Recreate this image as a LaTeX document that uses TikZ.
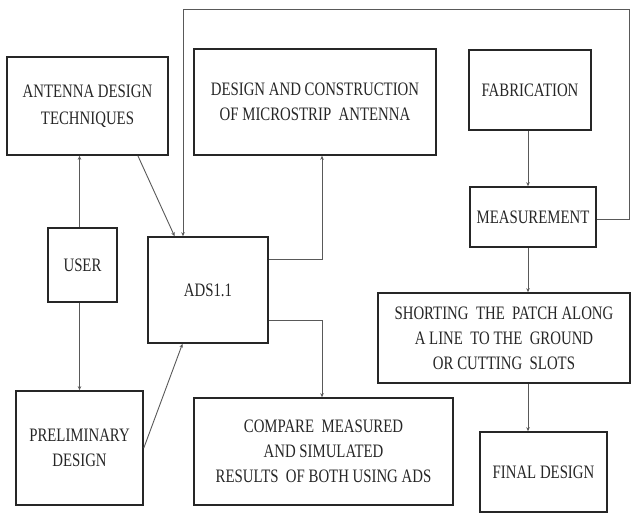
\documentclass[tikz,border=0pt]{standalone}
\usepackage{fontspec}
\setmainfont[FakeStretch=0.78]{Liberation Serif}
\usetikzlibrary{calc,arrows.meta}
\begin{document}
\begin{tikzpicture}[x=1pt,y=-1pt,
  box/.style={draw=black!85,line width=1.6pt,rectangle,inner sep=0pt,align=center,
    text=black!85,font=\fontsize{19}{25}\selectfont},
  conn/.style={draw=black!65,line width=0.9pt,-{Stealth[length=4pt,width=3.5pt]}}]
\useasboundingbox (0,0) rectangle (631,513);
\node[box,minimum width=161pt,minimum height=98pt] (adt) at (87.5,106) {ANTENNA DESIGN\\[2pt]TECHNIQUES};
\node[box,minimum width=242pt,minimum height=106pt] (dcm) at (315,102) {DESIGN AND CONSTRUCTION\\OF MICROSTRIP\ \ ANTENNA};
\node[box,minimum width=122pt,minimum height=80pt] (fab) at (530,90) {FABRICATION};
\node[box,minimum width=126pt,minimum height=60pt] (meas) at (533,217) {MEASUREMENT};
\node[box,minimum width=69pt,minimum height=74pt] (user) at (82.5,265) {USER};
\node[box,minimum width=120pt,minimum height=106pt] (ads) at (208,290) {ADS1.1};
\node[box,minimum width=127pt,minimum height=114pt] (pre) at (79.5,448) {PRELIMINARY\\DESIGN};
\node[box,minimum width=259pt,minimum height=107pt] (cmp) at (323.5,451.5) {COMPARE\ \ MEASURED\\AND SIMULATED\\RESULTS\ \ OF BOTH USING ADS};
\node[box,minimum width=252pt,minimum height=90pt] (sht) at (504,338) {SHORTING\ \ THE\ \ PATCH ALONG\\A LINE\ \ TO THE\ \ GROUND\\OR CUTTING\ \ SLOTS};
\node[box,minimum width=127pt,minimum height=80pt] (fin) at (543.5,472) {FINAL DESIGN};

\coordinate (tr) at (629.5,9);
\coordinate (lp) at (183,9);
\coordinate (bx) at (322,0);
\coordinate (fx) at (528,0);
\coordinate (a1) at ($(ads.north east)!0.22!(ads.south east)$);
\coordinate (a2) at ($(ads.north east)!0.78!(ads.south east)$);
\coordinate (m1) at ([yshift=-2pt]meas.east);

% user connections
\draw[conn] (user.north -| pre.north) -- (adt.south -| pre.north);
\draw[conn] (user.south -| pre.north) -- (pre.north);
% antenna design techniques to ADS
\draw[conn] ($(adt.south)!0.62!(adt.south east)$) -- ($(ads.north west)!0.45!(ads.north)$);
% preliminary to ADS
\draw[conn] (pre.east) -- ($(ads.south west)!0.58!(ads.south)$);
% ADS to design/construction and compare
\draw[conn] (a1) -- (a1 -| bx) -- (dcm.south -| bx);
\draw[conn] (a2) -- (a2 -| bx) -- (cmp.north -| bx);
% feedback loop
\draw[conn] (m1) -- (m1 -| tr) -- (tr) -- (lp) -- (ads.north -| lp);
% right chain
\draw[conn] (fab.south -| fx) -- (meas.north -| fx);
\draw[conn] (meas.south -| fx) -- (sht.north -| fx);
\draw[conn] (sht.south -| fx) -- (fin.north -| fx);
\end{tikzpicture}
\end{document}
